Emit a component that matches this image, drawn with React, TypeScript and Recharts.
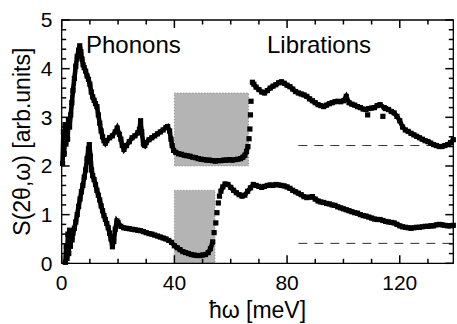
import {
  ComposedChart,
  Scatter,
  XAxis,
  YAxis,
  ReferenceArea,
  ReferenceLine,
} from 'recharts';

// [energy (meV), S(2θ,ω)]
const upperPhonons: [number, number][] = [
  [0.3, 2.05], [0.6, 2.7], [0.9, 2.25], [1.2, 2.85], [1.5, 2.45], [1.8, 2.75],
  [2.1, 2.55], [2.4, 2.95], [2.8, 2.8], [3.2, 3.05], [3.6, 3.3], [4.0, 3.55],
  [4.5, 3.8], [5.0, 4.05], [5.5, 4.25], [6.0, 4.38], [6.4, 4.47], [6.8, 4.35],
  [7.2, 4.2], [7.6, 4.08], [8.0, 4.02], [8.5, 3.95], [9.0, 3.85], [9.5, 3.78],
  [10.0, 3.68], [10.5, 3.52], [11.0, 3.42], [11.5, 3.35], [12.0, 3.28], [12.5, 3.22],
  [13.0, 3.05], [13.5, 2.88], [14.0, 2.72], [14.5, 2.6], [15.0, 2.52], [15.5, 2.47],
  [16, 2.52], [17, 2.58], [18, 2.62], [19, 2.7], [19.7, 2.78], [20.5, 2.65],
  [21, 2.55], [21.5, 2.42], [22.1, 2.34], [23, 2.42], [24, 2.5], [25, 2.58],
  [26, 2.62], [27, 2.68], [27.6, 2.75], [28, 2.93], [28.4, 2.7], [29, 2.45],
  [29.5, 2.42], [30, 2.48], [31, 2.54], [32, 2.58], [33, 2.62], [34, 2.66],
  [35, 2.7], [36, 2.74], [37, 2.79], [37.6, 2.81], [38.3, 2.72], [38.8, 2.55],
  [39.2, 2.42], [39.7, 2.32], [40.5, 2.28], [41.5, 2.25], [42.5, 2.24], [43.5, 2.22],
  [44.5, 2.21], [45.5, 2.2], [46.5, 2.18], [47.5, 2.17], [48.5, 2.15], [49.5, 2.14],
  [50.5, 2.13], [51.5, 2.12], [52.5, 2.12], [53.5, 2.11], [54.5, 2.1], [55.5, 2.11],
  [56.5, 2.11], [57.5, 2.12], [58.5, 2.12], [59.5, 2.13], [60.5, 2.12], [61.5, 2.13],
  [62.5, 2.14], [63.5, 2.15], [64.3, 2.18], [65.0, 2.22], [65.6, 2.3], [66.1, 2.4],
];

// sparse points on the steep edge
const upperJump: [number, number][] = [
  [66.5, 2.56], [66.8, 2.76], [67.0, 3.05], [67.2, 3.33],
];

const upperLibrations: [number, number][] = [
  [67.7, 3.72], [68.2, 3.68],
  [69, 3.62], [70, 3.57], [71, 3.52], [72, 3.5], [73, 3.55], [74, 3.6],
  [75, 3.64], [76, 3.67], [77, 3.71], [78, 3.73], [79, 3.7], [80, 3.66],
  [81, 3.63], [82, 3.58], [83, 3.53], [84, 3.5], [85, 3.48], [86, 3.46],
  [87, 3.43], [88, 3.38], [89, 3.34], [90, 3.3], [91, 3.26], [92, 3.24],
  [93, 3.22], [94, 3.25], [95, 3.28], [96, 3.3], [97, 3.32], [98, 3.33],
  [99, 3.32], [100, 3.34], [101, 3.43], [102, 3.3], [103, 3.27], [104, 3.25],
  [105, 3.22], [106, 3.2], [107, 3.17], [108, 3.16], [109, 3.18],
  [110, 3.19], [111, 3.2], [112, 3.24], [113, 3.26], [114.5, 3.2],
  [115, 3.18], [116, 3.16], [117, 3.12], [118, 3.09], [119, 3.02], [120, 2.93],
  [121, 2.8], [122, 2.74], [123, 2.71], [124, 2.67], [125, 2.64], [126, 2.61],
  [127, 2.58], [128, 2.55], [129, 2.52], [130, 2.5], [131, 2.47], [132, 2.44],
  [133, 2.42], [134, 2.4], [135, 2.4], [136, 2.42], [137, 2.44], [138, 2.48],
  [139, 2.54],
];

const upperOutliers: [number, number][] = [[108.6, 3.05], [114, 3.02]];

const lowerPhonons: [number, number][] = [
  [1.3, 0.02], [1.6, 0.35], [1.9, 0.1], [2.2, 0.6], [2.5, 0.2], [2.8, 0.68],
  [3.1, 0.35], [3.4, 0.55], [3.7, 0.48], [4.0, 0.62], [4.5, 0.72], [5.0, 0.85],
  [5.5, 1.0], [6.0, 1.17], [6.5, 1.32], [7.0, 1.47], [7.5, 1.6], [8.0, 1.77],
  [8.5, 1.92], [9.0, 2.15], [9.5, 2.35], [9.8, 2.44], [10.2, 2.2], [10.6, 1.92],
  [11.0, 1.8], [11.5, 1.72], [12.0, 1.62], [12.5, 1.5], [13.0, 1.4], [13.5, 1.3],
  [14.0, 1.18], [14.5, 1.08], [15.0, 0.98], [15.5, 0.9], [16.0, 0.82], [16.5, 0.73],
  [17.0, 0.62], [17.5, 0.5], [18.0, 0.34], [18.5, 0.45], [19.0, 0.7], [19.6, 0.87],
  [20, 0.84], [21, 0.76], [22, 0.73], [23, 0.72], [24, 0.71], [25, 0.7],
  [26, 0.69], [27, 0.68], [28, 0.67], [29, 0.65], [30, 0.63], [31, 0.61],
  [32, 0.6], [33, 0.58], [34, 0.56], [35, 0.54], [36, 0.52], [37, 0.5],
  [38, 0.47], [39, 0.43], [40, 0.36], [41, 0.32], [42, 0.28], [43, 0.24],
  [44, 0.22], [45, 0.2], [46, 0.18], [47, 0.17], [48, 0.16], [49, 0.16],
  [50, 0.17], [51, 0.18], [52, 0.22], [52.8, 0.3], [53.6, 0.44],
];

const lowerJump: [number, number][] = [
  [54.1, 0.63], [54.7, 0.83], [55.1, 1.04], [55.6, 1.24], [56.0, 1.38],
];

const lowerLibrations: [number, number][] = [
  [56.5, 1.48], [57.2, 1.57],
  [58, 1.63], [59, 1.62], [60, 1.56], [61, 1.5], [62, 1.45], [63, 1.41],
  [64, 1.38], [65, 1.4], [66, 1.48], [67, 1.55], [68, 1.62], [69, 1.6],
  [70, 1.58], [71, 1.56], [72, 1.58], [73, 1.6], [74, 1.61], [75, 1.6],
  [76, 1.62], [77, 1.61], [78, 1.6], [79, 1.59], [80, 1.57], [81, 1.54],
  [82, 1.5], [83, 1.47], [84, 1.44], [85, 1.41], [86, 1.37], [87, 1.35],
  [88, 1.36], [89, 1.37], [90, 1.32], [91, 1.28], [92, 1.26], [93, 1.25],
  [94, 1.23], [95, 1.22], [96, 1.2], [97, 1.19], [98, 1.16], [99, 1.14],
  [100, 1.12], [101, 1.1], [102, 1.08], [103, 1.06], [104, 1.04], [105, 1.03],
  [106, 1.0], [107, 0.98], [108, 0.97], [109, 0.95], [110, 0.93], [111, 0.91],
  [112, 0.9], [113, 0.9], [114, 0.88], [115, 0.86], [116, 0.85], [117, 0.84],
  [118, 0.83], [119, 0.8], [120, 0.77], [121, 0.75], [122, 0.74], [123, 0.73],
  [124, 0.72], [125, 0.73], [126, 0.74], [127, 0.74], [128, 0.75], [129, 0.76],
  [130, 0.76], [131, 0.77], [132, 0.77], [133, 0.79], [134, 0.8], [135, 0.79],
  [136, 0.78], [137, 0.77], [138, 0.77], [139, 0.78],
];

// shaded windows [x1, x2, y1, y2]
const windows: [number, number, number, number][] = [
  [40, 66.3, 2.0, 3.5],
  [40, 54.4, 0, 1.5],
];

// dashed baselines
const baselineLevels = [2.42, 0.41];
const baselineFrom = 84;

const xDomain = [0, 139];
const yDomain = [0, 5];
const xMajor = [0, 40, 80, 120];
const xMinor = [10, 20, 30, 50, 60, 70, 90, 100, 110, 130];
const yMajor = [0, 1, 2, 3, 4, 5];
const yMinor = [
  0.2, 0.4, 0.6, 0.8, 1.2, 1.4, 1.6, 1.8, 2.2, 2.4, 2.6, 2.8,
  3.2, 3.4, 3.6, 3.8, 4.2, 4.4, 4.6, 4.8,
];

const font = 'Liberation Sans, Arial, Helvetica, sans-serif';
const toRows = (pts: [number, number][]) => pts.map(([e, s]) => ({ e, s }));

const Square = (props: any) => {
  const { cx, cy } = props;
  if (cx == null || cy == null) return null;
  return <rect x={cx - 2.6} y={cy - 2.6} width={5.2} height={5.2} fill='#000' />;
};

// inward tick marks on the four sides of the frame, placed by the axis scales
type TickMark = { e: number; s: number; dx: number; dy: number };
const tickMarks: TickMark[] = [];
const addX = (t: number, len: number) => {
  tickMarks.push({ e: t, s: yDomain[0], dx: 0, dy: -len });
  tickMarks.push({ e: t, s: yDomain[1], dx: 0, dy: len });
};
const addY = (t: number, len: number) => {
  tickMarks.push({ e: xDomain[0], s: t, dx: len, dy: 0 });
  tickMarks.push({ e: xDomain[1], s: t, dx: -len, dy: 0 });
};
xMajor.forEach((t) => addX(t, 8));
xMinor.forEach((t) => addX(t, 4.5));
yMajor.forEach((t) => addY(t, 8));
yMinor.forEach((t) => addY(t, 4.5));

const TickShape = (props: any) => {
  const { cx, cy } = props;
  const p = props.payload ?? props;
  if (cx == null || cy == null) return null;
  return (
    <line
      x1={cx}
      y1={cy}
      x2={cx + (p.dx ?? 0)}
      y2={cy + (p.dy ?? 0)}
      stroke='#000'
      strokeWidth={1.5}
    />
  );
};

const tickText = { fill: '#000', fontSize: 21, fontFamily: font };
const band = { stroke: '#000', strokeWidth: 4.6 };

export default function App() {
  const series: [[number, number][], boolean][] = [
    [upperPhonons, true],
    [upperJump, false],
    [upperLibrations, true],
    [upperOutliers, false],
    [lowerPhonons, true],
    [lowerJump, false],
    [lowerLibrations, true],
  ];
  return (
    <div style={{ position: 'absolute', left: 0, top: 0, background: '#fff' }}>
      <ComposedChart
        width={457}
        height={324}
        margin={{ top: 20, right: 3.7, bottom: 20.7, left: 0 }}
      >
        {windows.map(([x1, x2, y1, y2], i) => (
          <ReferenceArea
            key={`w${i}`}
            x1={x1}
            x2={x2}
            y1={y1}
            y2={y2}
            fill='#b4b4b4'
            fillOpacity={1}
            stroke='#888'
            strokeDasharray='1 2'
            strokeWidth={1}
          />
        ))}
        {baselineLevels.map((v, i) => (
          <ReferenceLine
            key={`b${i}`}
            segment={[
              { x: baselineFrom, y: v },
              { x: xDomain[1], y: v },
            ]}
            stroke='#333'
            strokeWidth={1}
            strokeDasharray='9 7'
          />
        ))}

        <XAxis
          type='number'
          dataKey='e'
          domain={xDomain}
          ticks={xMajor}
          interval={0}
          height={40}
          tickSize={0}
          tickMargin={11.7}
          axisLine={false}
          tickLine={false}
          tick={tickText}
        />
        <YAxis
          type='number'
          domain={yDomain}
          ticks={yMajor}
          interval={0}
          width={61.7}
          tickSize={0}
          tickMargin={9.2}
          axisLine={false}
          tickLine={false}
          tick={tickText}
        />

        <ReferenceArea
          x1={xDomain[0]}
          x2={xDomain[1]}
          y1={yDomain[0]}
          y2={yDomain[1]}
          fill='none'
          stroke='#000'
          strokeWidth={1.3}
        />

        <Scatter
          data={tickMarks}
          dataKey='s'
          shape={TickShape}
          isAnimationActive={false}
        />

        {series.map(([pts, joined], i) => (
          <Scatter
            key={`s${i}`}
            data={toRows(pts)}
            dataKey='s'
            shape={Square}
            line={joined ? band : false}
            isAnimationActive={false}
          />
        ))}

        <text x={86} y={53} fontSize={24} fontFamily={font} fill='#000'>
          Phonons
        </text>
        <text x={267} y={53} fontSize={24} fontFamily={font} fill='#000'>
          Librations
        </text>
        <text
          x={257.5}
          y={318}
          fontSize={23}
          fontFamily={font}
          fill='#000'
          textAnchor='middle'
        >
          ħω [meV]
        </text>
        <text
          x={30}
          y={141.7}
          fontSize={23}
          fontFamily={font}
          fill='#000'
          textAnchor='middle'
          transform='rotate(-90 30 141.7)'
        >
          S(2θ,ω) [arb.units]
        </text>
      </ComposedChart>
    </div>
  );
}
